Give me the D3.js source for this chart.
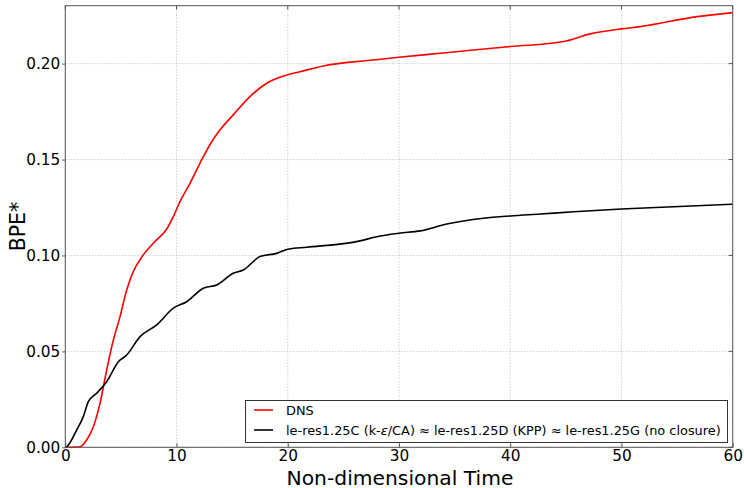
<!DOCTYPE html>
<html>
<head>
<meta charset="utf-8">
<script src="https://cdn.jsdelivr.net/npm/d3@7"></script>
<style>
  html, body { margin: 0; padding: 0; background: #fff; }
  svg { display: block; font-family: "DejaVu Sans", sans-serif; }
</style>
</head>
<body>
<svg id="chart" width="744" height="488"></svg>
<script>
// Background potential energy vs time
const dnsTime = [0, 1.32, 1.92, 2.52, 3.12, 3.72, 4.32, 4.92, 5.52, 6.11, 7.01, 7.91, 9.12, 9.71, 10.31, 11.21, 12.41, 13.16, 13.9, 15.1, 16.6, 18.1, 19.9, 21.1, 23.2, 27.7, 30, 33.7, 36.7, 40, 44.8, 47.2, 50, 51.7, 56.8, 60];
const dnsBPE  = [0, 0.0003, 0.0038, 0.0107, 0.0229, 0.0403, 0.0559, 0.0681, 0.082, 0.0916, 0.1003, 0.1064, 0.1138, 0.1202, 0.1281, 0.1376, 0.1515, 0.1593, 0.1654, 0.1733, 0.1828, 0.1898, 0.1941, 0.1958, 0.1988, 0.2019, 0.2033, 0.2054, 0.2071, 0.2089, 0.2115, 0.2155, 0.2181, 0.2193, 0.2245, 0.2266];

const lesTime = [0, 0.12, 1.02, 1.62, 2.07, 2.82, 3.72, 4.77, 5.52, 6.72, 8.22, 9.71, 10.91, 12.41, 13.61, 15.1, 16.0, 17.5, 19.0, 20.1, 21.7, 26.5, 28.0, 30.0, 31.9, 34.3, 37.6, 40, 42.7, 45.7, 50, 54.7, 60];
const lesBPE  = [0, 0.0003, 0.009, 0.016, 0.0238, 0.0282, 0.0342, 0.0446, 0.0481, 0.0577, 0.0638, 0.0725, 0.0759, 0.0829, 0.0846, 0.0907, 0.0924, 0.0994, 0.1011, 0.1034, 0.1043, 0.1076, 0.1098, 0.1116, 0.1128, 0.1164, 0.1194, 0.1206, 0.1216, 0.1228, 0.1242, 0.1254, 0.1267];

const xTicks = [0, 10, 20, 30, 40, 50, 60];
const yTicks = [0.00, 0.05, 0.10, 0.15, 0.20];

const series = [
  { name: "DNS", color: "#ff0000", t: dnsTime, v: dnsBPE },
  { name: "LES", color: "#000000", t: lesTime, v: lesBPE }
];

const svg = d3.select("#chart");
const m = { left: 65.3, right: 732.7, top: 5.7, bottom: 447.3 };

const x = d3.scaleLinear().domain([0, 60]).range([m.left, m.right]);
const y = d3.scaleLinear().domain([0, 0.2302]).range([m.bottom, m.top]);

// dotted grid
const grid = svg.append("g");
grid.selectAll("line.vx").data(xTicks).join("line")
  .attr("x1", d => x(d)).attr("x2", d => x(d))
  .attr("y1", m.top).attr("y2", m.bottom)
  .attr("stroke", "#a8a8a8").attr("stroke-width", 0.8).attr("stroke-dasharray", "1,2");
grid.selectAll("line.hy").data(yTicks).join("line")
  .attr("x1", m.left).attr("x2", m.right)
  .attr("y1", d => y(d)).attr("y2", d => y(d))
  .attr("stroke", "#a8a8a8").attr("stroke-width", 0.8).attr("stroke-dasharray", "1,2");

// curves
const line = d3.line().x(d => x(d[0])).y(d => y(d[1])).curve(d3.curveMonotoneX);
svg.append("g").selectAll("path").data(series).join("path")
  .attr("d", s => line(s.t.map((t, i) => [t, s.v[i]])))
  .attr("fill", "none").attr("stroke", s => s.color).attr("stroke-width", 1.6)
  .attr("stroke-linejoin", "round");

// frame
svg.append("rect").attr("x", m.left).attr("y", m.top)
  .attr("width", m.right - m.left).attr("height", m.bottom - m.top)
  .attr("fill", "none").attr("stroke", "#555").attr("stroke-width", 1);

// axes (labels + ticks)
const xAxis = d3.axisBottom(x).tickValues(xTicks).tickFormat(d3.format("d"))
  .tickSizeInner(-4).tickSizeOuter(0).tickPadding(3);
const gx = svg.append("g").attr("transform", `translate(0,${m.bottom})`).call(xAxis);
const yAxis = d3.axisLeft(y).tickValues(yTicks).tickFormat(d3.format(".2f"))
  .tickSizeInner(3).tickSizeOuter(0).tickPadding(2);
const gy = svg.append("g").attr("transform", `translate(${m.left},0)`).call(yAxis);
[gx, gy].forEach(g => {
  g.select(".domain").remove();
  g.selectAll("line").attr("stroke", "#555");
  g.selectAll("text").attr("font-size", 15.3).attr("fill", "#000")
    .attr("font-family", "DejaVu Sans, sans-serif");
});
// right / top inward ticks
svg.append("g").selectAll("line").data(yTicks).join("line")
  .attr("x1", m.right - 4).attr("x2", m.right).attr("y1", d => y(d)).attr("y2", d => y(d))
  .attr("stroke", "#555");
svg.append("g").selectAll("line").data(xTicks).join("line")
  .attr("x1", d => x(d)).attr("x2", d => x(d)).attr("y1", m.top).attr("y2", m.top + 4)
  .attr("stroke", "#555");

// axis titles
svg.append("text").attr("x", 400).attr("y", 484.5)
  .attr("text-anchor", "middle").attr("font-size", 20.3).text("Non-dimensional Time");
svg.append("text").attr("transform", `translate(25,${(m.top + m.bottom) / 2}) rotate(-90)`)
  .attr("text-anchor", "middle").attr("font-size", 20.5).text("BPE*");

// legend
const lg = svg.append("g");
lg.append("rect").attr("x", 245.5).attr("y", 400.5).attr("width", 482).attr("height", 42)
  .attr("fill", "#fff").attr("stroke", "#333").attr("stroke-width", 1);
const rows = [
  { color: "#ff0000", y: 410 },
  { color: "#000000", y: 430 }
];
lg.selectAll("line").data(rows).join("line")
  .attr("x1", 254).attr("x2", 273).attr("y1", d => d.y).attr("y2", d => d.y)
  .attr("stroke", d => d.color).attr("stroke-width", 1.6);
lg.append("text").attr("x", 286).attr("y", 414.5).attr("font-size", 12.9).text("DNS");
const t2 = lg.append("text").attr("x", 286).attr("y", 434.5).attr("font-size", 12.9);
t2.append("tspan").text("le-res1.25C (k-");
t2.append("tspan").attr("font-style", "italic").text("ε");
t2.append("tspan").text("/CA) ≈ le-res1.25D (KPP) ≈ le-res1.25G (no closure)");
</script>
</body>
</html>
